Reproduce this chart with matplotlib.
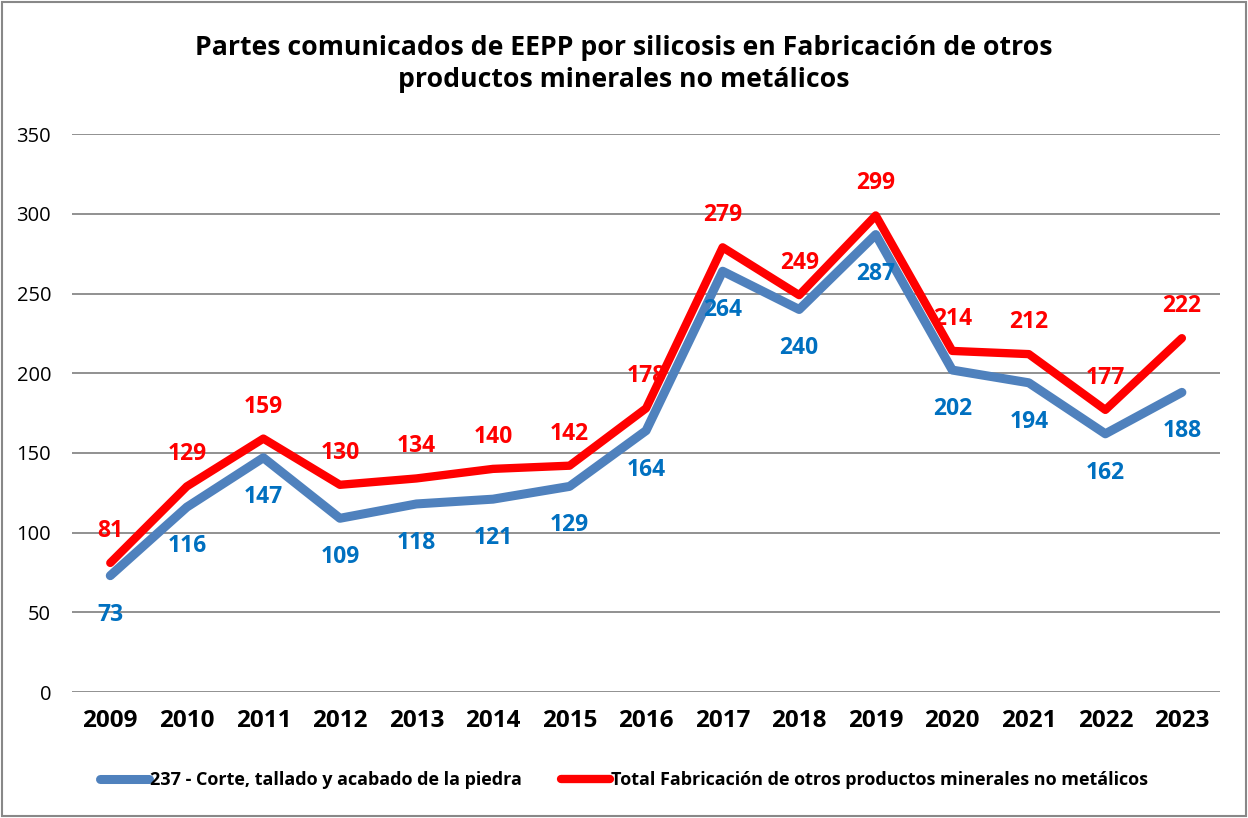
import numpy as np
import matplotlib.pyplot as plt

plt.rcParams['font.family'] = ['Open Sans', 'DejaVu Sans']

anios = ['2009', '2010', '2011', '2012', '2013', '2014', '2015', '2016',
         '2017', '2018', '2019', '2020', '2021', '2022', '2023']
piedra = [73, 116, 147, 109, 118, 121, 129, 164, 264, 240, 287, 202, 194, 162, 188]
total = [81, 129, 159, 130, 134, 140, 142, 178, 279, 249, 299, 214, 212, 177, 222]

x = np.arange(len(anios))

fig = plt.figure(figsize=(12.48, 8.18), dpi=100)
ax = fig.add_axes([0.0577, 0.154, 0.92, 0.682])

l1, = ax.plot(x, piedra, color='#4F81BD', lw=6.5, solid_capstyle='round',
              solid_joinstyle='round', label='237 - Corte, tallado y acabado de la piedra')
l2, = ax.plot(x, total, color='#FF0000', lw=6, solid_capstyle='round',
              solid_joinstyle='round', label='Total Fabricación de otros productos minerales no metálicos')

for i in range(len(x)):
    ax.annotate(str(piedra[i]), (x[i], piedra[i]), xytext=(0, -39),
                textcoords='offset pixels', ha='center', va='center',
                color='#0070C0', fontsize=16.5, fontweight='bold')
    ax.annotate(str(total[i]), (x[i], total[i]), xytext=(0, 32),
                textcoords='offset pixels', ha='center', va='center',
                color='#FF0000', fontsize=16.5, fontweight='bold')

ax.set_xlim(-0.5, len(x) - 0.5)
ax.set_ylim(0, 350)
ax.set_yticks(range(0, 351, 50))
ax.set_xticks(x)
ax.set_xticklabels(anios, fontsize=17.5, fontweight='bold')
ax.tick_params(axis='y', labelsize=14.5, length=0, pad=15)
ax.tick_params(axis='x', length=0, pad=12)
ax.grid(axis='y', color='#888888', lw=1.3)
ax.set_axisbelow(True)
for s in ax.spines.values():
    s.set_visible(False)

fig.text(0.5, 0.922, 'Partes comunicados de EEPP por silicosis en Fabricación de otros\nproductos minerales no metálicos',
         ha='center', va='center', fontsize=19.2, fontweight='bold', linespacing=1.3)

fig.legend(handles=[l1, l2], loc='center', bbox_to_anchor=(0.5, 0.046), ncol=2,
           frameon=False, prop={'weight': 'bold', 'size': 13},
           handlelength=2.7, handletextpad=0.05, columnspacing=2.2)

fig.patches.append(plt.Rectangle((0.002, 0.002), 0.996, 0.996, transform=fig.transFigure,
                                 fill=False, edgecolor='#888888', lw=1.5))

plt.savefig('out.png', dpi=100)
plt.close()
